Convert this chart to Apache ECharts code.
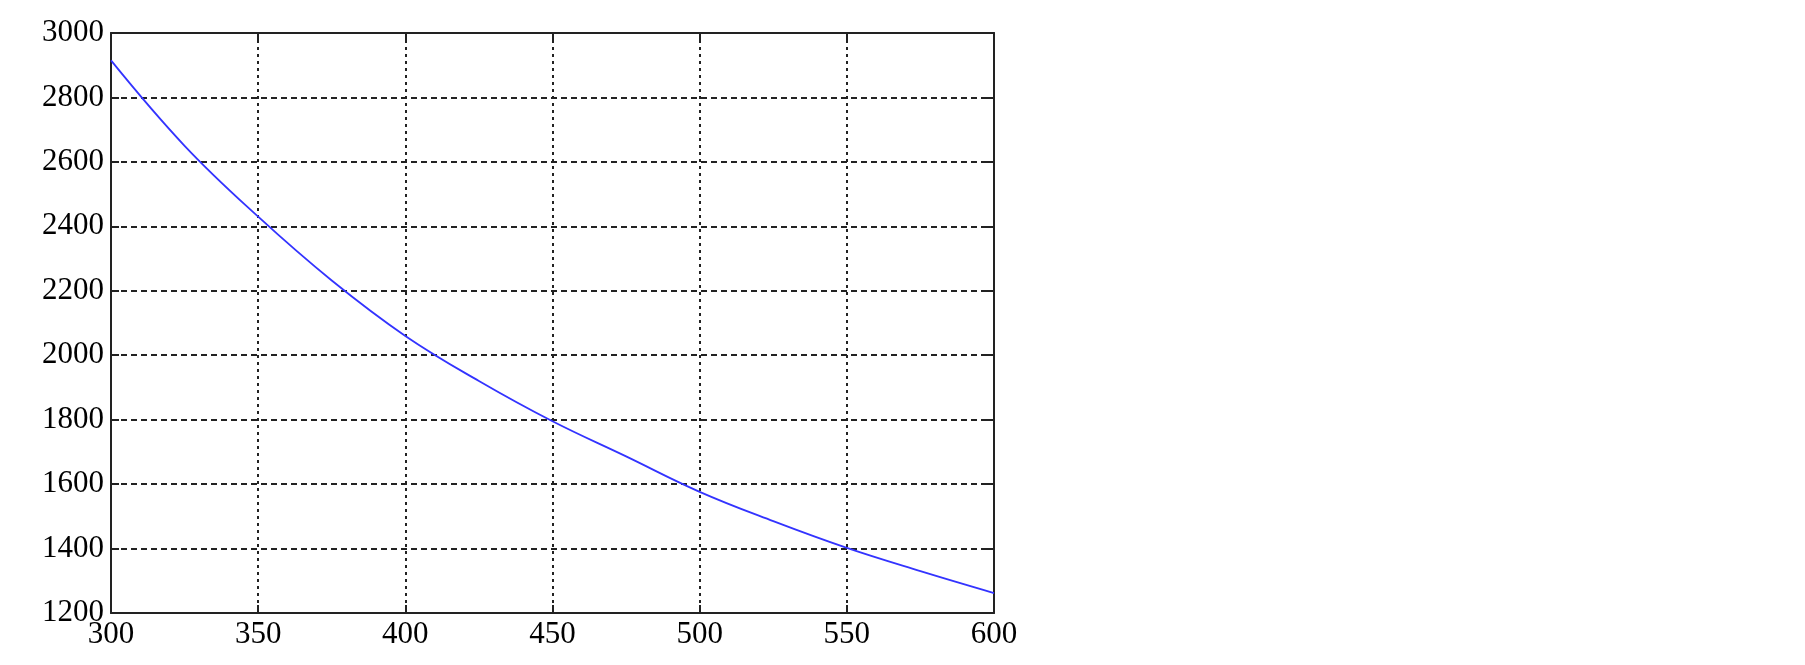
<!DOCTYPE html>
<html>
<head>
<meta charset="utf-8">
<script src="https://cdn.jsdelivr.net/npm/echarts@6/dist/echarts.min.js"></script>
<style>
	html, body { margin: 0; padding: 0; background: #fff; }
	#chart { width: 1805px; height: 665px; }
</style>
</head>
<body>
<div id="chart"></div>
<script>
// values
const xValues = [300, 325, 350, 375, 400, 425, 450, 475, 500, 525, 550, 575, 600];
const yValues = [2915, 2650, 2430, 2232, 2060, 1920, 1795, 1686, 1576, 1485, 1402, 1330, 1262];
const xTicks = [300, 350, 400, 450, 500, 550, 600];
const yTicks = [1200, 1400, 1600, 1800, 2000, 2200, 2400, 2600, 2800, 3000];

let chart = echarts.init(document.getElementById('chart'));

let labelFont = {
	fontFamily: 'Liberation Serif',
	fontSize: 31,
	color: '#000',
	formatter: function (v) { return String(v); }
};
let frameLine = { show: true, lineStyle: { color: '#222', width: 2 } };
let innerTick = { show: true, inside: true, length: 8, lineStyle: { color: '#222', width: 2 } };

let option = {
	animation: false,
	backgroundColor: '#fff',
	grid: {
		left: 111,
		top: 33,
		right: 811,
		bottom: 52
	},
	xAxis: [{
		type: 'value',
		min: xTicks[0],
		max: xTicks[xTicks.length - 1],
		interval: 50,
		axisLine: frameLine,
		axisTick: innerTick,
		axisLabel: Object.assign({ margin: 6 }, labelFont),
		splitLine: { show: true, lineStyle: { color: '#222', width: 2, type: [3, 4] } }
	}, {
		type: 'value',
		position: 'top',
		min: xTicks[0],
		max: xTicks[xTicks.length - 1],
		interval: 50,
		axisLine: frameLine,
		axisTick: innerTick,
		axisLabel: { show: false },
		splitLine: { show: false }
	}],
	yAxis: [{
		type: 'value',
		min: yTicks[0],
		max: yTicks[yTicks.length - 1],
		interval: 200,
		axisLine: frameLine,
		axisTick: innerTick,
		axisLabel: Object.assign({ margin: 7 }, labelFont),
		splitLine: { show: true, lineStyle: { color: '#222', width: 2, type: [6, 4] } }
	}, {
		type: 'value',
		position: 'right',
		min: yTicks[0],
		max: yTicks[yTicks.length - 1],
		interval: 200,
		axisLine: frameLine,
		axisTick: innerTick,
		axisLabel: { show: false },
		splitLine: { show: false }
	}],
	series: [{
		type: 'line',
		data: xValues.map((x, i) => [x, yValues[i]]),
		smooth: 0.4,
		showSymbol: false,
		lineStyle: { color: '#3333ff', width: 1.8 }
	}]
};
chart.setOption(option);
</script>
</body>
</html>
